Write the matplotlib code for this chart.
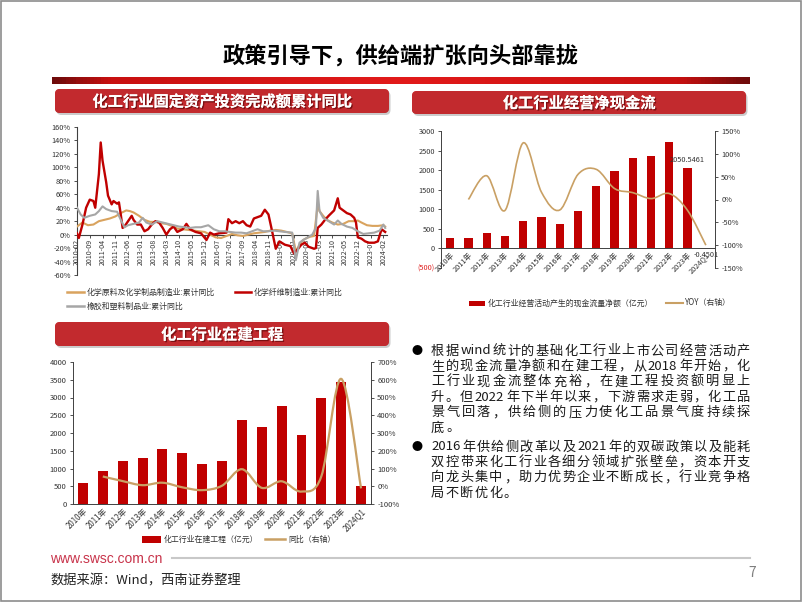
import matplotlib
matplotlib.use("Agg")
import matplotlib.pyplot as plt
import numpy as np
import matplotlib.patheffects as pe
from matplotlib.patches import FancyBboxPatch, Rectangle, PathPatch
from matplotlib.path import Path
from matplotlib.colors import LinearSegmentedColormap

plt.rcParams['font.family'] = ['Noto Sans CJK SC', 'DejaVu Sans']
plt.rcParams['axes.unicode_minus'] = False

W, H = 802, 602

# ---------------- data: chart 1 (cumulative YoY, %) ----------------
chart1_ticks = ['2010-02', '2010-09', '2011-04', '2011-11', '2012-06', '2013-01', '2013-08',
                '2014-03', '2014-10', '2015-05', '2015-12', '2016-07', '2017-02', '2017-09',
                '2018-04', '2018-11', '2019-06', '2020-01', '2020-08', '2021-03', '2021-10',
                '2022-05', '2022-12', '2023-07', '2024-02']

chem_dates = ['2010-02', '2010-05', '2010-08', '2010-11', '2011-02', '2011-05', '2011-08', '2011-11',
              '2012-02', '2012-05', '2012-07', '2012-09', '2012-12', '2013-03', '2013-06', '2013-09',
              '2013-12', '2014-03', '2014-06', '2014-09', '2014-12', '2015-03', '2015-06', '2015-09',
              '2015-12', '2016-03', '2016-06', '2016-09', '2016-12', '2017-03', '2017-06', '2017-09',
              '2017-12', '2018-03', '2018-06', '2018-09', '2018-12', '2019-03', '2019-06', '2019-09',
              '2019-12', '2020-02', '2020-04', '2020-06', '2020-08', '2020-10', '2020-12', '2021-02',
              '2021-03', '2021-05', '2021-07', '2021-10', '2022-01', '2022-04', '2022-07', '2022-10',
              '2022-12', '2023-02', '2023-05', '2023-08', '2023-11', '2024-02', '2024-03']
chem_vals = [12, 18, 14, 15, 20, 22, 24, 27,
             32, 36, 35, 33, 28, 22, 19, 19,
             17, 16, 13, 9, 8, 7, 6, 5,
             4, 0, -4, -5, -2, 1, -1, -2,
             0, 2, 3, 4, 6, 7, 6, 4,
             2, -25, -15, -8, -5, -3, -2, 45,
             35, 28, 22, 18, 15, 16, 20, 20,
             21, 18, 14, 13, 13, 14, 12]

fiber_dates = ['2010-02', '2010-03', '2010-05', '2010-07', '2010-09', '2010-11', '2010-12', '2011-02',
               '2011-03', '2011-04', '2011-06', '2011-07', '2011-09', '2011-10', '2011-12', '2012-01',
               '2012-02', '2012-03', '2012-04', '2012-06', '2012-08', '2012-09', '2012-11', '2013-01',
               '2013-03', '2013-05', '2013-07', '2013-09', '2013-11', '2014-01', '2014-03', '2014-05',
               '2014-07', '2014-09', '2014-12', '2015-02', '2015-04', '2015-07', '2015-10', '2016-01',
               '2016-03', '2016-05', '2016-08', '2016-12', '2017-01', '2017-03', '2017-05', '2017-07',
               '2017-09', '2017-11', '2018-01', '2018-03', '2018-05', '2018-07', '2018-09', '2018-11',
               '2019-01', '2019-03', '2019-05', '2019-08', '2019-11', '2020-01', '2020-03', '2020-05',
               '2020-07', '2020-09', '2020-12', '2021-01', '2021-02', '2021-04', '2021-06', '2021-08',
               '2021-11', '2022-01', '2022-02', '2022-04', '2022-06', '2022-08', '2022-10', '2022-11',
               '2022-12', '2023-02', '2023-04', '2023-06', '2023-09', '2023-11', '2024-01', '2024-03']
fiber_vals = [2, -5, 15, 40, 52, 50, 40, 90,
              137, 110, 78, 58, 45, 50, 46, 48,
              30, 10, 12, 20, 28, 22, 15, 15,
              5, 8, 15, 20, 18, 10, 0, 8,
              12, 4, 8, 16, 8, 4, 2, -8,
              3, 0, 2, 3, 23, 17, 20, 17,
              20, 14, 12, 24, 26, 28, 37, 30,
              5, -21, -10, -15, -17, -28, -22, -15,
              -12, -18, -21, -20, 10, 15, 22, 28,
              36, 54, 40, 36, 32, 30, 25, 18,
              -4, -6, -10, -12, -12, -10, 8, 4]

rubber_dates = ['2010-02', '2010-04', '2010-06', '2010-09', '2010-12', '2011-02', '2011-04', '2011-06',
                '2011-09', '2011-12', '2012-02', '2012-04', '2012-06', '2012-09', '2012-12', '2013-02',
                '2013-04', '2013-07', '2013-10', '2014-01', '2014-04', '2014-07', '2014-10', '2015-01',
                '2015-04', '2015-07', '2015-10', '2016-02', '2016-05', '2016-08', '2016-11', '2017-02',
                '2017-05', '2017-08', '2017-11', '2018-02', '2018-05', '2018-08', '2018-11', '2019-02',
                '2019-05', '2019-08', '2019-12', '2020-02', '2020-04', '2020-06', '2020-08', '2020-11',
                '2021-01', '2021-02', '2021-03', '2021-05', '2021-08', '2021-11', '2022-01', '2022-03',
                '2022-06', '2022-09', '2022-12', '2023-03', '2023-06', '2023-09', '2023-12', '2024-02',
                '2024-03']
rubber_vals = [40, 30, 25, 28, 30, 35, 42, 38,
               35, 34, 22, 11, 14, 16, 18, 25,
               18, 15, 20, 18, 16, 14, 12, 11,
               10, 11, 11, 14, 8, 5, 5, 4,
               3, 3, 2, 5, 8, 5, 5, 6,
               5, 4, 3, -38, -12, -8, -5, 0,
               10, 65, 35, 25, 20, 15, 21, 16,
               12, 10, 5, 1, 2, 3, 6, 15,
               10]

# ---------------- data: chart 2 (net operating cash flow) ----------------
years = ['2010年', '2011年', '2012年', '2013年', '2014年', '2015年', '2016年', '2017年',
         '2018年', '2019年', '2020年', '2021年', '2022年', '2023年', '2024Q1']
cash_flow = [264, 264, 402, 307, 692, 812, 615, 966,
             1590, 1982, 2315, 2350, 2710, 2050.5461, -0.4501]
cash_yoy = [None, 0, 52, -24, 124, 16, -23, 55,
            66, 24, 15, 2, 13, -24, -100]

# ---------------- data: chart 3 (construction in progress) ----------------
cip = [600, 938, 1220, 1304, 1549, 1427, 1135, 1203,
       2366, 2160, 2760, 1935, 2994, 3445, 516]
cip_yoy = [None, 55, 29, 6, 20, -6, -22, 3,
           96, -9, 28, -30, 56, 605, -12]

bullet1 = ['根据wind统计的基础化工行业上市公司经营活动产',
           '生的现金流量净额和在建工程，从2018年开始，化',
           '工行业现金流整体充裕，在建工程投资额明显上',
           '升。但2022年下半年以来，下游需求走弱，化工品',
           '景气回落，供给侧的压力使化工品景气度持续探',
           '底。']
bullet2 = ['2016年供给侧改革以及2021年的双碳政策以及能耗',
           '双控带来化工行业各细分领域扩张壁垒，资本开支',
           '向龙头集中，助力优势企业不断成长，行业竞争格',
           '局不断优化。']

RED = '#C00000'
TAN = '#C9A064'
TXT = '#333333'


def midx(s):
    y, m = s.split('-')
    return (int(y) - 2010) * 12 + int(m) - 2


def px_axes(x0, y0, x1, y1):
    ax = fig.add_axes([x0 / W, 1 - y1 / H, (x1 - x0) / W, (y1 - y0) / H])
    ax.set_facecolor('none')
    return ax


def smooth_path(xs, ys):
    pts = np.column_stack([xs, ys]).astype(float)
    verts = [pts[0]]
    codes = [Path.MOVETO]
    n = len(pts)
    for i in range(n - 1):
        p0 = pts[i - 1] if i > 0 else pts[i]
        p1, p2 = pts[i], pts[i + 1]
        p3 = pts[i + 2] if i + 2 < n else pts[i + 1]
        verts += [p1 + (p2 - p0) / 6, p2 - (p3 - p1) / 6, p2]
        codes += [Path.CURVE4] * 3
    return Path(verts, codes)


fig = plt.figure(figsize=(W / 100, H / 100), dpi=100)
bg = fig.add_axes([0, 0, 1, 1])
bg.set_xlim(0, W)
bg.set_ylim(H, 0)
bg.axis('off')

# slide border and top bar
bg.add_patch(Rectangle((0.8, 0.8), W - 1.6, H - 1.6, fill=False, ec='#8C8C8C', lw=1.2))
bg.text(401, 56, '政策引导下，供给端扩张向头部靠拢', fontsize=16, fontweight='bold',
        ha='center', va='center', color='black')
bar_cmap = LinearSegmentedColormap.from_list('bar', [(0, '#6E0B0B'), (0.08, '#C81010'), (0.5, '#E21A1A'),
                                                     (0.9, '#C81010'), (1, '#6E0B0B')])
bg.imshow(np.linspace(0, 1, 200).reshape(1, -1), extent=(52, 750, 84, 77), cmap=bar_cmap, aspect='auto')

hdr_cmap = LinearSegmentedColormap.from_list('hdr', ['#DB4B4B', '#C22A2E', '#A3161B'])


def header(x0, y0, x1, y1, text):
    sh = FancyBboxPatch((x0 + 1.5, y0 + 2), x1 - x0, y1 - y0, boxstyle='round,pad=0,rounding_size=5',
                        fc='#999999', ec='none', alpha=0.5)
    bg.add_patch(sh)
    box = FancyBboxPatch((x0, y0), x1 - x0, y1 - y0, boxstyle='round,pad=0,rounding_size=5',
                         fc='#C22A2E', ec='none')
    bg.add_patch(box)
    im = bg.imshow(np.linspace(0, 1, 60).reshape(-1, 1), extent=(x0, x1, y1, y0), cmap=hdr_cmap, aspect='auto')
    im.set_clip_path(box)
    bg.text((x0 + x1) / 2, (y0 + y1) / 2 + 0.5, text, fontsize=11, fontweight='bold', color='white',
            ha='center', va='center',
            path_effects=[pe.withSimplePatchShadow(offset=(1, -1), shadow_rgbFace='#4a0000', alpha=0.6), pe.Normal()])


header(55, 89, 389, 113, '化工行业固定资产投资完成额累计同比')
header(412, 91, 746, 114, '化工行业经营净现金流')
header(55, 322, 389, 346, '化工行业在建工程')

# ---------------- chart 1 ----------------
ax1 = px_axes(77, 127, 387, 275)
ax1.plot([midx(d) for d in chem_dates], chem_vals, color='#D9A35E', lw=1.5, zorder=3)
ax1.plot([midx(d) for d in fiber_dates], fiber_vals, color=RED, lw=1.7, zorder=3)
ax1.plot([midx(d) for d in rubber_dates], rubber_vals, color='#A6A6A6', lw=1.5, zorder=3)
ax1.set_xlim(0, 170)
ax1.set_ylim(-60, 160)
ax1.set_yticks(range(-60, 161, 20))
ax1.set_yticklabels([f'{v}%' for v in range(-60, 161, 20)])
ax1.set_xticks([midx(t) for t in chart1_ticks])
ax1.set_xticklabels(chart1_ticks)
for s in ['top', 'right']:
    ax1.spines[s].set_visible(False)
ax1.spines['bottom'].set_position(('data', 0))
ax1.spines['bottom'].set_color('#404040')
ax1.spines['left'].set_color('#404040')
ax1.tick_params(axis='y', labelsize=5.3, colors=TXT, length=2.5, pad=2, width=0.6)
ax1.tick_params(axis='x', labelsize=5.1, colors=TXT, length=2, pad=1, width=0.6, labelrotation=90)

bg.plot([67, 84], [292, 292], color='#D9A35E', lw=1.8)
bg.text(87, 292, '化学原料及化学制品制造业:累计同比', fontsize=5.7, color=TXT, va='center')
bg.plot([235, 251], [292, 292], color=RED, lw=1.8)
bg.text(254, 292, '化学纤维制造业:累计同比', fontsize=5.7, color=TXT, va='center')
bg.plot([67, 84], [306, 306], color='#A6A6A6', lw=1.8)
bg.text(87, 306, '橡胶和塑料制品业:累计同比', fontsize=5.7, color=TXT, va='center')

# ---------------- chart 2 ----------------
ax2 = px_axes(441, 131, 715, 268)
xc = np.arange(len(years))
ax2.bar(xc, cash_flow, width=0.45, color=RED, zorder=2)
ax2.set_xlim(-0.5, len(years) - 0.5)
ax2.set_ylim(-500, 3000)
ax2.set_yticks(range(-500, 3001, 500))
ax2.set_yticklabels(['(500)'] + [str(v) for v in range(0, 3001, 500)])
ax2.set_xticks(xc)
ax2.set_xticklabels(years)
ax2.spines['top'].set_visible(False)
ax2.spines['right'].set_visible(False)
ax2.spines['bottom'].set_position(('data', 0))
for s in ['bottom', 'left']:
    ax2.spines[s].set_color('#404040')
    ax2.spines[s].set_linewidth(0.7)
ax2.tick_params(axis='y', labelsize=5.3, colors=TXT, length=2.5, pad=2, width=0.6)
ax2.tick_params(axis='x', labelsize=5.3, colors=TXT, length=0, pad=2)
for lab in ax2.get_xticklabels():
    lab.set_rotation(45)
    lab.set_ha('right')
    lab.set_rotation_mode('anchor')
ax2.get_yticklabels()[0].set_color('#E02020')
ax2.annotate(f'{cash_flow[13]:.4f}', (13, cash_flow[13]), xytext=(0, 3), textcoords='offset points',
             ha='center', va='bottom', fontsize=5.3, color=TXT)
ax2.annotate(f'{cash_flow[14]:.4f}', (14, 0), xytext=(0, -1.5), textcoords='offset points',
             ha='center', va='top', fontsize=5.3, color=TXT)
ax2r = ax2.twinx()
ax2r.set_facecolor('none')
ax2r.set_ylim(-150, 150)
ax2r.set_yticks(range(-150, 151, 50))
ax2r.set_yticklabels([f'{v}%' for v in range(-150, 151, 50)])
ax2r.tick_params(axis='y', labelsize=5.3, colors=TXT, length=2.5, pad=2, width=0.6)
for s in ['top', 'left', 'bottom']:
    ax2r.spines[s].set_visible(False)
ax2r.spines['right'].set_color('#404040')
ax2r.spines['right'].set_linewidth(0.7)
yy = [(i, v) for i, v in enumerate(cash_yoy) if v is not None]
ax2r.add_patch(PathPatch(smooth_path([p[0] for p in yy], [p[1] for p in yy]), fill=False, ec=TAN, lw=1.2))

bg.add_patch(Rectangle((469, 301), 16, 4.5, fc=RED, ec='none'))
bg.text(488, 303, '化工行业经营活动产生的现金流量净额（亿元）', fontsize=5.7, color=TXT, va='center')
bg.plot([666, 683], [303, 303], color=TAN, lw=1.5)
bg.text(685, 303, 'YOY（右轴）', fontsize=5.7, color=TXT, va='center')

# ---------------- chart 3 ----------------
ax3 = px_axes(73, 362, 371, 504)
xc3 = np.arange(len(years))
ax3.bar(xc3, cip, width=0.5, color=RED, zorder=2)
ax3.set_xlim(-0.5, len(years) - 0.5)
ax3.set_ylim(0, 4000)
ax3.set_yticks(range(0, 4001, 500))
ax3.set_xticks(xc3)
ax3.set_xticklabels(years)
ax3.spines['top'].set_visible(False)
ax3.spines['right'].set_visible(False)
for s in ['bottom', 'left']:
    ax3.spines[s].set_color('#404040')
    ax3.spines[s].set_linewidth(0.7)
ax3.tick_params(axis='y', labelsize=5.5, colors=TXT, length=2.5, pad=2, width=0.6)
ax3.tick_params(axis='x', labelsize=5.7, colors=TXT, length=0, pad=2)
for lab in ax3.get_xticklabels():
    lab.set_rotation(45)
    lab.set_ha('right')
    lab.set_rotation_mode('anchor')
ax3r = ax3.twinx()
ax3r.set_facecolor('none')
ax3r.set_ylim(-100, 700)
ax3r.set_yticks(range(-100, 701, 100))
ax3r.set_yticklabels([f'{v}%' for v in range(-100, 701, 100)])
ax3r.tick_params(axis='y', labelsize=5.5, colors=TXT, length=2.5, pad=2, width=0.6)
for s in ['top', 'left', 'bottom']:
    ax3r.spines[s].set_visible(False)
ax3r.spines['right'].set_color('#404040')
ax3r.spines['right'].set_linewidth(0.7)
yy3 = [(i, v) for i, v in enumerate(cip_yoy) if v is not None]
ax3r.add_patch(PathPatch(smooth_path([p[0] for p in yy3], [p[1] for p in yy3]), fill=False, ec=TAN, lw=1.6))

bg.add_patch(Rectangle((142, 535.5), 19, 7, fc=RED, ec='none'))
bg.text(164, 539, '化工行业在建工程（亿元）', fontsize=5.7, color=TXT, va='center')
bg.plot([265, 285], [539, 539], color=TAN, lw=1.8)
bg.text(288, 539, '同比（右轴）', fontsize=5.7, color=TXT, va='center')

# ---------------- bullet text (justified) ----------------
renderer = fig.canvas.get_renderer()
BODY = 9.5
EM = BODY * 100 / 72


def tokens(line):
    out, buf = [], ''
    for ch in line:
        if ord(ch) < 128:
            buf += ch
        else:
            if buf:
                out.append(buf)
                buf = ''
            out.append(ch)
    if buf:
        out.append(buf)
    return out


def width_of(tok):
    if ord(tok[0]) >= 128:
        return EM
    t = bg.text(0, 0, tok, fontsize=BODY)
    w = t.get_window_extent(renderer).width
    t.remove()
    return w + 1


def draw_paragraph(lines, y0, x0=431, x1=750, step=15.4):
    gap = 0
    for k, line in enumerate(lines):
        toks = tokens(line)
        widths = [width_of(t) for t in toks]
        if k < len(lines) - 1:
            gap = (x1 - x0 - sum(widths)) / (len(toks) - 1)
        x = x0
        y = y0 + k * step
        for t, w in zip(toks, widths):
            bg.text(x + w / 2, y, t, fontsize=BODY, ha='center', va='center', color='#1a1a1a')
            x += w + gap
    bg.text(417, y0, '●', fontsize=8, ha='center', va='center', color='black')


draw_paragraph(bullet1, 351)
draw_paragraph(bullet2, 447)

# ---------------- footer ----------------
bg.text(50, 559, 'www.swsc.com.cn', fontsize=10, color='#C8334A', va='center',
        family=['Liberation Sans', 'DejaVu Sans'])
bg.plot([172, 750], [558, 558], color='#C8C8C8', lw=1.5)
bg.text(50, 581, '数据来源：Wind，西南证券整理', fontsize=9.5, color='#222222', va='center', style='italic')
bg.text(752, 573, '7', fontsize=10, color='#7F7F7F', ha='center', va='center')

bg.set_xlim(0, W)
bg.set_ylim(H, 0)
fig.savefig('out.png', dpi=100)
